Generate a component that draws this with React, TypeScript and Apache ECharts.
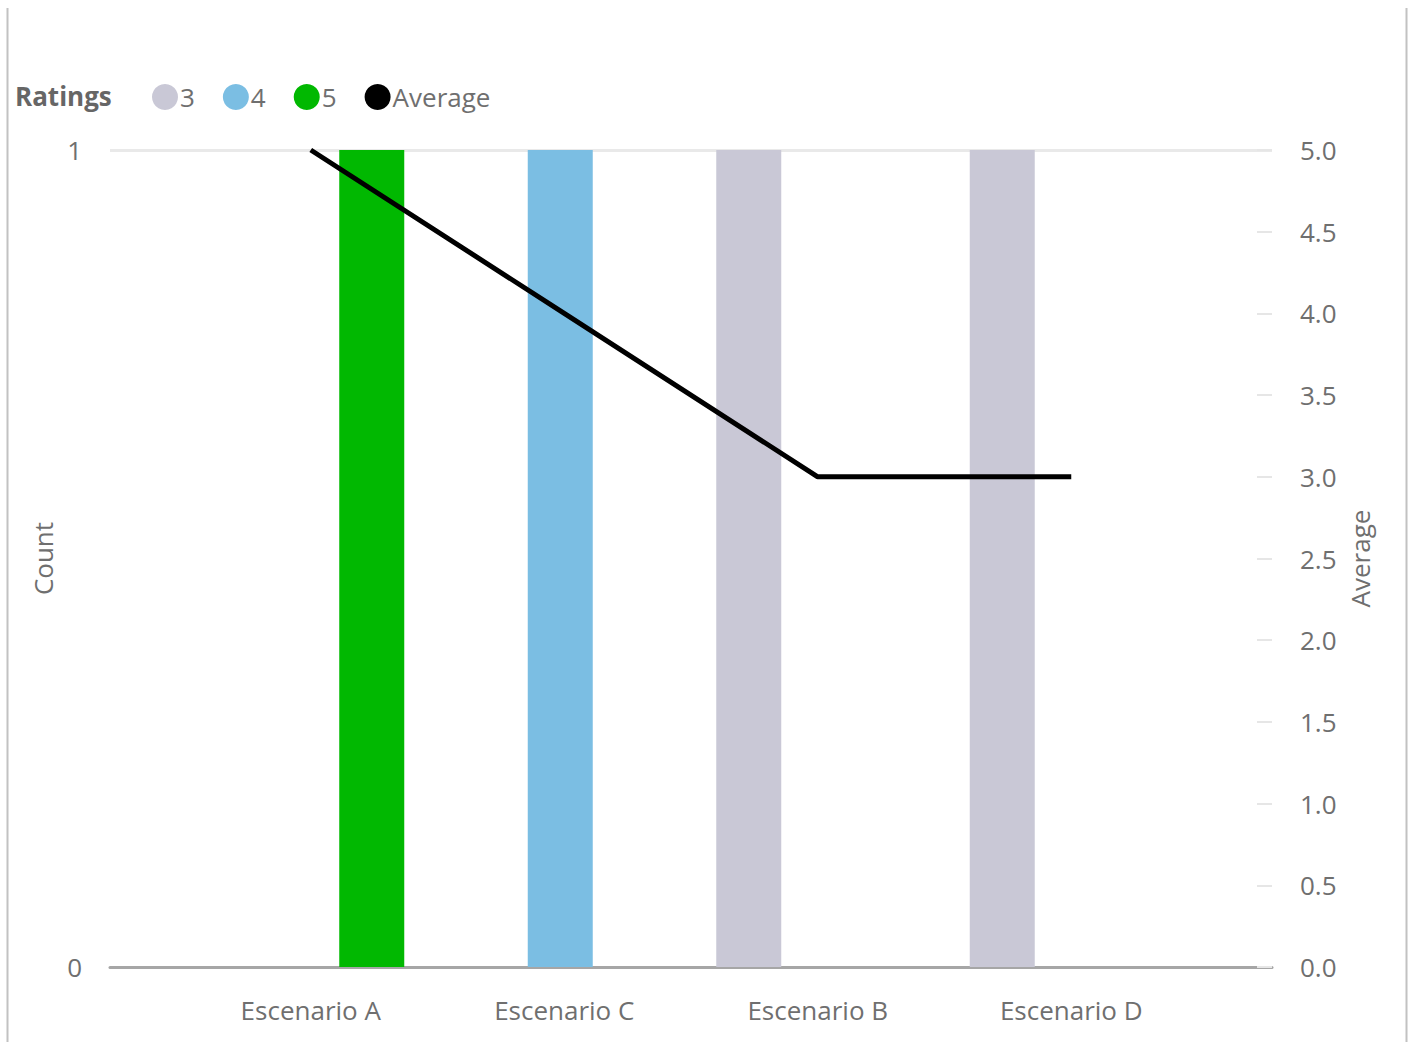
import React, { useEffect, useRef } from "react";
import * as echarts from "echarts";

const categories = ["Escenario A", "Escenario C", "Escenario B", "Escenario D"];
const rating3 = [0, 0, 1, 1];
const rating4 = [0, 1, 0, 0];
const rating5 = [1, 0, 0, 0];
const average = [5, 4, 3, 3];
const countTicks = [0, 1];

const FONT = "'Open Sans', 'Noto Sans', sans-serif";
const TXT = "#6f6f6f";
const FS = 26;

export default function App() {
  const ref = useRef<HTMLDivElement>(null);
  useEffect(() => {
    const chart = echarts.init(ref.current!, undefined, { renderer: "svg" });
    chart.setOption({
      animation: false,
      textStyle: { fontFamily: FONT },
      legend: {
        left: 147,
        top: 79,
        icon: "circle",
        itemWidth: 26,
        itemHeight: 26,
        itemGap: 28,
        textStyle: { fontSize: FS, color: TXT, fontFamily: FONT, padding: [0, 0, 0, -3] },
        data: ["3", "4", "5", "Average"],
      },
      graphic: [
        { type: "text", left: 15, top: 83, style: { text: "Ratings", fontSize: FS, fontWeight: "bold", fill: "#666", fontFamily: FONT } },
        { type: "line", shape: { x1: 7.5, y1: 8, x2: 7.5, y2: 1042 }, style: { stroke: "#c2c2c2", lineWidth: 2 } },
        { type: "line", shape: { x1: 1406.5, y1: 8, x2: 1406.5, y2: 1042 }, style: { stroke: "#c2c2c2", lineWidth: 2 } },
      ],
      grid: [
        { left: 110, right: 142, top: 150, bottom: 75 },
        { left: 184, right: 216, top: 150, bottom: 75 },
        { left: 180, right: 220, top: 150, bottom: 75 },
      ],
      xAxis: [
        {
          gridIndex: 0, type: "value", min: 0, max: 1,
          axisLine: { show: true, lineStyle: { color: "#a6a6a6", width: 3 } },
          axisTick: { show: false }, axisLabel: { show: false }, splitLine: { show: false },
        },
        {
          gridIndex: 1, type: "category", data: categories,
          axisLine: { show: false }, axisTick: { show: false },
          axisLabel: { fontSize: FS, color: TXT, margin: 30, fontFamily: FONT },
        },
        {
          gridIndex: 2, type: "category", data: categories, show: false,
        },
      ],
      yAxis: [
        {
          gridIndex: 0, type: "value", min: 0, max: 1, interval: 1,
          name: "Count", nameLocation: "middle", nameGap: 51,
          nameTextStyle: { fontSize: FS, color: TXT, fontFamily: FONT },
          axisLine: { show: false }, axisTick: { show: false },
          axisLabel: { fontSize: FS, color: TXT, margin: 28, fontFamily: FONT, formatter: (v: number) => (countTicks.includes(v) ? String(v) : "") },
          splitLine: { show: true, lineStyle: { color: "#e9e9e9", width: 3 } },
        },
        {
          gridIndex: 0, type: "value", min: 0, max: 5, interval: 0.5, position: "right",
          name: "Average", nameLocation: "middle", nameGap: 74, nameRotate: 90,
          nameTextStyle: { fontSize: FS, color: TXT, fontFamily: FONT },
          axisLine: { show: false },
          axisTick: { show: true, inside: true, length: 15, lineStyle: { color: "#e6e6e6", width: 2 } },
          axisLabel: { fontSize: FS, color: TXT, margin: 28, fontFamily: FONT, formatter: (v: number) => v.toFixed(1) },
          splitLine: { show: false },
        },
        { gridIndex: 1, type: "value", min: 0, max: 5, show: false },
        { gridIndex: 2, type: "value", min: 0, max: 1, show: false },
      ],
      series: [
        { name: "3", type: "bar", xAxisIndex: 2, yAxisIndex: 3, data: rating3, barWidth: 65, barGap: "0%", itemStyle: { color: "#c9c8d6" } },
        { name: "4", type: "bar", xAxisIndex: 2, yAxisIndex: 3, data: rating4, barWidth: 65, barGap: "0%", itemStyle: { color: "#7bbee3" } },
        { name: "5", type: "bar", xAxisIndex: 2, yAxisIndex: 3, data: rating5, barWidth: 65, barGap: "0%", itemStyle: { color: "#01b801" } },
        {
          name: "Average", type: "line", xAxisIndex: 1, yAxisIndex: 2, data: average,
          showSymbol: false, symbol: "circle", itemStyle: { color: "#000" },
          lineStyle: { color: "#000", width: 5 }, z: 10,
        },
      ],
    });
    return () => chart.dispose();
  }, []);
  return <div ref={ref} style={{ position: "absolute", left: 0, top: 0, width: 1414, height: 1042, background: "#fff" }} />;
}
